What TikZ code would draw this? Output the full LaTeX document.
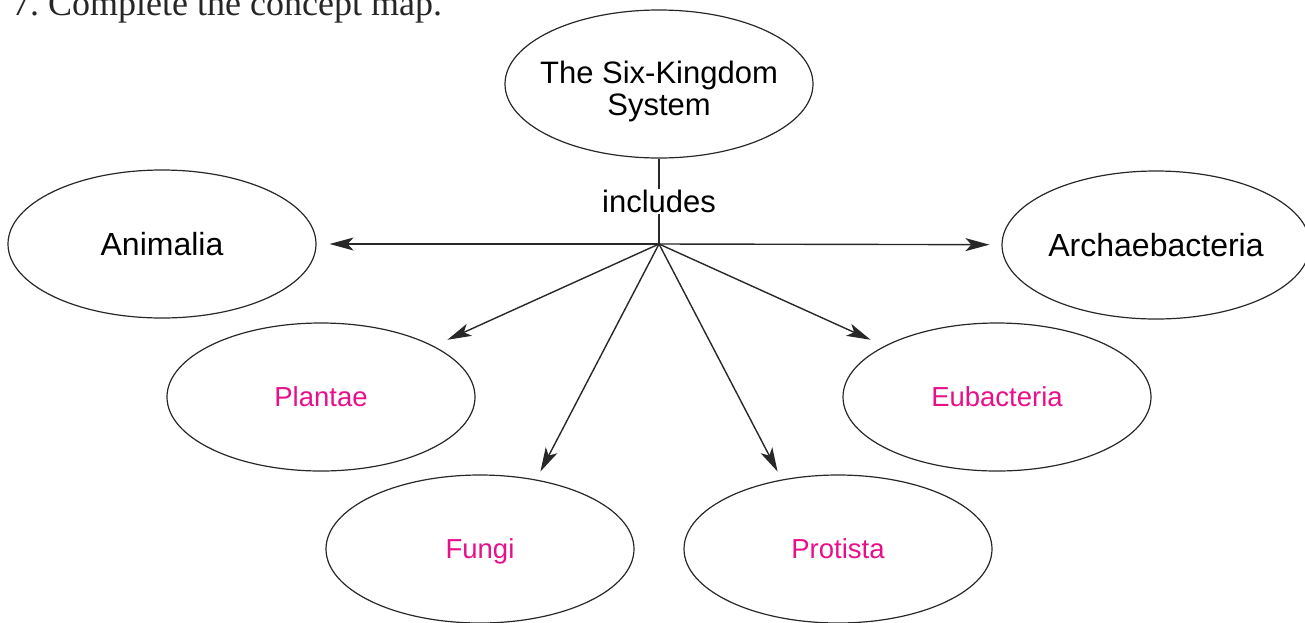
\documentclass[tikz,border=0pt]{standalone}
\usepackage{fontspec}
\setmainfont{Liberation Serif}
\newfontfamily\mysans{Liberation Sans}
\usetikzlibrary{shapes.geometric,arrows.meta}
\definecolor{inkline}{RGB}{40,40,40}
\definecolor{answer}{RGB}{232,16,138}
\tikzset{
  oval/.style={ellipse,draw=inkline,line width=1.2pt,inner sep=0pt,
    minimum width=308pt,minimum height=148pt},
  kingdom/.style={oval,font=\mysans\fontsize{32}{33}\selectfont,text=black,
    text height=23pt,text depth=0pt},
  filled/.style={oval,font=\mysans\fontsize{27.5}{28}\selectfont,text=answer,
    text height=19.7pt,text depth=0pt},
  link/.style={draw=inkline,line width=1.4pt},
  arrowlink/.style={link,-{Stealth[length=24pt,width=13pt,inset=6pt]}}
}
\begin{document}
\begin{tikzpicture}[x=1pt,y=-1pt]
\useasboundingbox (0,0) rectangle (1305,622);
\node[anchor=base west,font=\fontsize{36}{37}\selectfont,text=black!85,inner sep=0pt] (title) at (12,15) {7.\ Complete the concept map.};
\node[oval] (top) at (659,84) {};
\node[align=center,font=\mysans\fontsize{31}{32}\selectfont,inner sep=0pt] (toptext) at (659,91) {The Six-Kingdom\\System};
\coordinate (j) at (659,244);
\node[kingdom] (an) at (162,244) {Animalia};
\node[kingdom] (ar) at (1156,245) {Archaebacteria};
\node[filled] (pl) at (321,397) {Plantae};
\node[filled] (eu) at (997,397) {Eubacteria};
\node[filled] (fu) at (480,549) {Fungi};
\node[filled] (pr) at (838,549) {Protista};
\draw[link] (top.south) -- (j) node[pos=0.5,fill=white,inner sep=1pt,font=\mysans\fontsize{31}{32}\selectfont] (inc) {includes};
\draw[arrowlink,shorten >=13pt] (j) -- (an);
\draw[arrowlink,shorten >=12pt] (j) -- (ar);
\draw[arrowlink,shorten >=15pt] (j) -- (pl);
\draw[arrowlink,shorten >=15pt] (j) -- (eu);
\draw[arrowlink,shorten >=9pt] (j) -- (fu.51);
\draw[arrowlink,shorten >=9pt] (j) -- (pr.129);
\end{tikzpicture}
\end{document}
